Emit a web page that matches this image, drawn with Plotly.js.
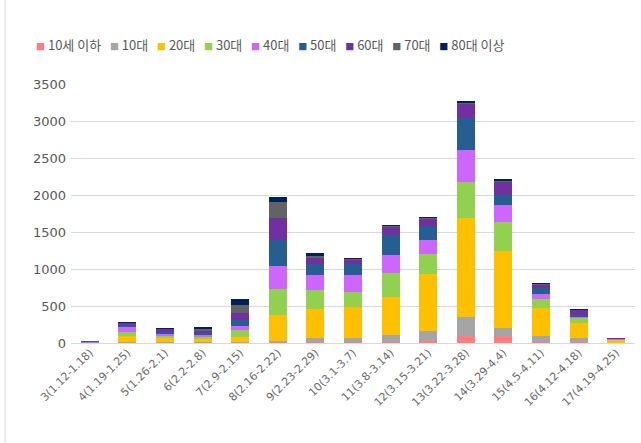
<!DOCTYPE html>
<html>
<head>
<meta charset="utf-8">
<script src="https://cdn.plot.ly/plotly-3.0.1.min.js"></script>
<style>
  html, body { margin: 0; padding: 0; background: #fff; }
  #chart { width: 641px; height: 443px; }
</style>
</head>
<body>
<div id="chart"></div>
<script>
// ---- data ----
const categories = ['3(1.12-1.18)','4(1.19-1.25)','5(1.26-2.1)','6(2.2-2.8)','7(2.9-2.15)',
  '8(2.16-2.22)','9(2.23-2.29)','10(3.1-3.7)','11(3.8-3.14)','12(3.15-3.21)',
  '13(3.22-3.28)','14(3.29-4.4)','15(4.5-4.11)','16(4.12-4.18)','17(4.19-4.25)'];

const seriesNames = ['10세 이하','10대','20대','30대','40대','50대','60대','70대','80대 이상'];

const age_under10 = [0, 5, 3, 3, 2, 8, 18, 8, 8, 31, 100, 89, 20, 10, 1];
const age_10s     = [1, 15, 17, 12, 5, 23, 56, 55, 100, 135, 245, 114, 79, 53, 4];
const age_20s     = [2, 75, 45, 35, 78, 347, 381, 419, 517, 766, 1343, 1034, 374, 203, 32];
const age_30s     = [2, 58, 31, 30, 97, 347, 261, 211, 317, 270, 486, 392, 125, 68, 4];
const age_40s     = [12, 67, 27, 25, 44, 315, 203, 226, 247, 190, 436, 230, 68, 21, 10];
const age_50s     = [6, 23, 30, 30, 81, 352, 142, 155, 270, 189, 429, 144, 77, 23, 4];
const age_60s     = [9, 23, 30, 30, 101, 293, 81, 54, 104, 94, 189, 172, 45, 64, 9];
const age_70s     = [1, 5, 5, 25, 101, 216, 40, 12, 18, 15, 20, 20, 5, 10, 2];
const age_80plus  = [0, 14, 17, 30, 85, 76, 30, 15, 13, 10, 20, 21, 14, 11, 2];

const yTickVals = [0, 500, 1000, 1500, 2000, 2500, 3000, 3500];

// ---- styles ----
const colors = ['#FF7C80','#A5A5A5','#FFC000','#92D050','#CC66FF','#255E91','#7030A0','#636363','#002060'];
const seriesValues = [age_under10, age_10s, age_20s, age_30s, age_40s, age_50s, age_60s, age_70s, age_80plus];

const traces = seriesNames.map((name, i) => ({
  type: 'bar',
  name: name,
  x: categories,
  y: seriesValues[i],
  marker: { color: colors[i], line: { width: 0 } },
  showlegend: false,
  hoverinfo: 'x+y+name'
}));

// Legend drawn as a single text line (colored squares + labels)
const gap = '\u00a0\u00a0\u00a0';
const legendText = seriesNames.map((n, i) =>
  '<span style="color:' + colors[i] + ';font-size:9px">■</span>\u00a0' + n
).join(gap);

const L = 71, R = 6, T = 84, B = 100;
const W = 641, H = 443;
const pw = W - L - R, ph = H - T - B;
const px2x = p => (p - L) / pw;
const py2y = p => (H - B - p) / ph;

const layout = {
  width: W, height: H,
  margin: { l: L, r: R, t: T, b: B, pad: 0 },
  paper_bgcolor: '#ffffff',
  plot_bgcolor: '#ffffff',
  barmode: 'stack',
  bargap: 0.52,
  font: { family: 'DejaVu Sans, "Noto Sans CJK KR", sans-serif', color: '#595959' },
  xaxis: {
    type: 'category',
    tickangle: -45,
    tickfont: { size: 11, color: '#6b6b6b', family: 'DejaVu Sans, sans-serif' },
    showgrid: false,
    showline: false,
    ticks: '',
    zeroline: false,
    fixedrange: true
  },
  yaxis: {
    range: [0, 3500],
    tickvals: yTickVals,
    ticktext: yTickVals.map(String),
    showgrid: true,
    gridcolor: '#D9D9D9',
    gridwidth: 1,
    zeroline: true,
    zerolinecolor: '#D9D9D9',
    zerolinewidth: 1,
    showline: false,
    ticks: '',
    ticklabelstandoff: 4,
    tickfont: { size: 13, color: '#595959', family: 'DejaVu Sans, sans-serif' },
    fixedrange: true
  },
  annotations: [{
    xref: 'paper', yref: 'paper',
    x: px2x(34), y: py2y(44),
    xanchor: 'left', yanchor: 'middle',
    showarrow: false,
    text: legendText,
    font: { size: 13, color: '#595959', family: '"Noto Sans CJK KR", sans-serif' }
  }],
  shapes: [{
    type: 'line', xref: 'paper', yref: 'paper',
    x0: px2x(5), x1: px2x(5), y0: py2y(0), y1: py2y(443),
    line: { color: '#D9D9D9', width: 1 }
  }]
};

Plotly.newPlot('chart', traces, layout, { displayModeBar: false, staticPlot: true });
</script>
</body>
</html>
